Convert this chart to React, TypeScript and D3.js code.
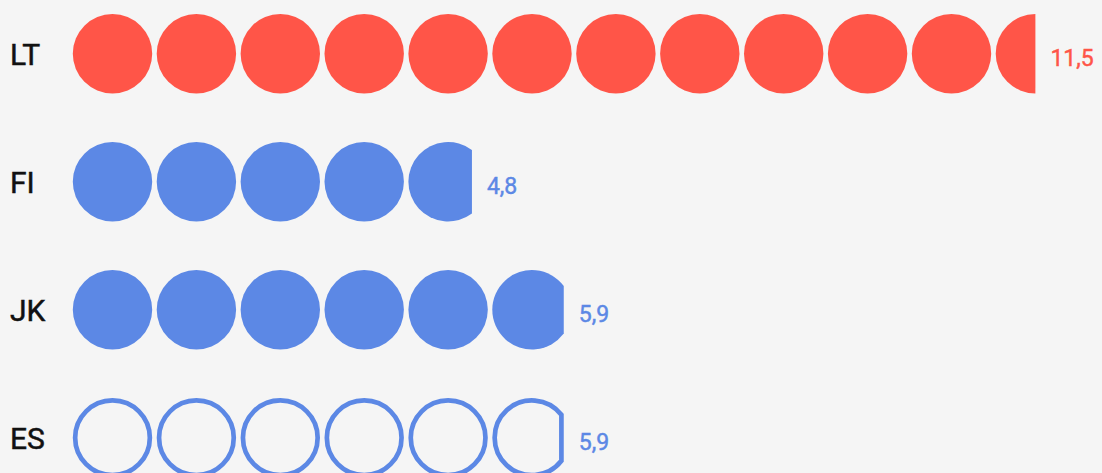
import * as d3 from "d3";
import React, { useEffect } from "react";

// data
const categories = ["LT", "FI", "JK", "ES"];
const values = [11.5, 4.8, 5.9, 5.9];
const valueLabels = ["11,5", "4,8", "5,9", "5,9"];

// styles
const RED = "#ff5548";
const BLUE = "#5c88e5";
const rowColor = [RED, BLUE, BLUE, BLUE];
const rowOutline = [false, false, false, true];

const W = 1102;
const H = 473;
const R = 39.7; // outer radius of a dot
const STEP = 83.9; // distance between dot centres
const SW = 4.7; // ring stroke

// one dot, cut at clipX; returns path for radius r
function segment(cx: number, cy: number, r: number, clipX: number) {
  const p = d3.path();
  const dx = clipX - cx;
  const h = Math.sqrt(Math.max(0, r * r - dx * dx));
  p.moveTo(clipX, cy - h);
  // arc round the left side, back to the cut
  const a0 = Math.atan2(-h, dx);
  const a1 = Math.atan2(h, dx);
  p.arc(cx, cy, r, a0, a1, true);
  p.closePath();
  return p.toString();
}

export default function App() {
  useEffect(() => {
    document.body.style.margin = "0";
    document.body.style.background = "#f5f5f5";
  }, []);

  const y = d3.scalePoint<string>().domain(categories).range([53.7, 437.8]);
  // x in "dot units": 0 is the left edge of the first dot
  const x = d3.scaleLinear().domain([0, 1]).range([72.8, 72.8 + STEP]);

  return (
    <svg width={W} height={H} style={{ display: "block", background: "#f5f5f5" }}>
      {categories.map((c, ri) => {
        const cy = y(c)!;
        const v = values[ri];
        const n = Math.ceil(v);
        const color = rowColor[ri];
        const outline = rowOutline[ri];
        const frac = v - Math.floor(v) || 1;
        const lastLeft = x(n - 1);
        const clipOuter = lastLeft + frac * 2 * R;
        return (
          <g key={c}>
            {/* regular + a hairline stroke reads like Roboto Medium */}
            <text
              x={10}
              y={cy + 11}
              fontFamily="Roboto, sans-serif"
              fontWeight={400}
              fontSize={30}
              fill="#111"
              stroke="#111"
              strokeWidth={0.5}
            >
              {c}
            </text>
            {d3.range(n).map((i) => {
              const cx = x(i) + R;
              const f = Math.min(1, v - i);
              if (outline) {
                const rr = R - SW / 2;
                if (f >= 1)
                  return <circle key={i} cx={cx} cy={cy} r={rr} fill="none" stroke={color} strokeWidth={SW} />;
                const cut = x(i) + f * 2 * R - SW / 2;
                return <path key={i} d={segment(cx, cy, rr, cut)} fill="none" stroke={color} strokeWidth={SW} />;
              }
              if (f >= 1) return <circle key={i} cx={cx} cy={cy} r={R} fill={color} />;
              const cut = x(i) + f * 2 * R;
              return <path key={i} d={segment(cx, cy, R, cut)} fill={color} />;
            })}
            <text
              x={clipOuter + 15}
              y={cy + 12.5}
              fontFamily="Roboto, sans-serif"
              fontWeight={400}
              fontSize={23}
              fill={color}
              stroke={color}
              strokeWidth={0.45}
            >
              {valueLabels[ri]}
            </text>
          </g>
        );
      })}
    </svg>
  );
}
